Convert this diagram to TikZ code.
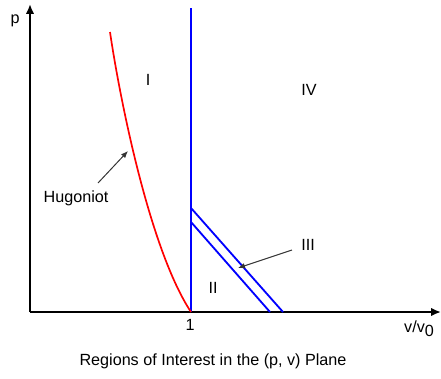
\documentclass[tikz,border=0pt]{standalone}
\usepackage{fontspec}
\setmainfont{Liberation Sans}
\usetikzlibrary{arrows.meta,calc}

\tikzset{
    lbl/.style={inner sep=0pt, font=\fontsize{11.5}{13}\selectfont},
    axis/.style={line width=1.4pt, -{Latex[length=7pt,width=6pt]}},
    bnd/.style={blue, line width=1.3pt},
    ptr/.style={black!80, line width=0.7pt, -{Latex[length=5pt,width=4pt]}}
}

\begin{document}
\begin{tikzpicture}[x=0.025cm,y=-0.025cm]
\useasboundingbox (0,0) rectangle (441,378);

% axes
\coordinate (O) at (30,312);
\coordinate (ptop) at (30,4);
\coordinate (vend) at (441,312);
\draw[axis] (O) -- (ptop);
\draw[axis] (O) -- (vend);
\node[lbl] (plabel) at (15,21) {p};
\node[lbl] (vlabel) at (419,329) {v/v\raisebox{-0.5ex}{0}};
\node[lbl] (one) at (190,325) {1};

% v = v0 line and region III band
\coordinate (vtop) at (191,8);
\coordinate (vbot) at (191,312);
\draw[bnd] (vtop) -- (vbot);
\coordinate (ua) at (191,208);
\coordinate (ub) at (283,312);
\coordinate (la) at (191,222);
\coordinate (lb) at (270,312);
\draw[bnd] (ua) -- (ub);
\draw[bnd] (la) -- (lb);

% Hugoniot
\coordinate (htop) at (110,32);
\draw[red, line width=1.2pt] (htop) .. controls (120,100) and (150,250) .. (vbot);

% labels
\node[lbl] (rI) at (148,80) {I};
\node[lbl] (rII) at (213,288) {II};
\node[lbl] (rIII) at (308,245) {III};
\node[lbl] (rIV) at (309,90) {IV};
\node[lbl] (hug) at (76,198) {Hugoniot};
\node[lbl] (cap) at (213,361) {Regions of Interest in the (p, v) Plane};

\coordinate (hugtail) at (98,183);
\coordinate (hugtip) at (128,151);
\draw[ptr] (hugtail) -- (hugtip);
\coordinate (iiitail) at (292,250);
\coordinate (iiitip) at (238,268);
\draw[ptr] (iiitail) -- (iiitip);
\end{tikzpicture}
\end{document}
